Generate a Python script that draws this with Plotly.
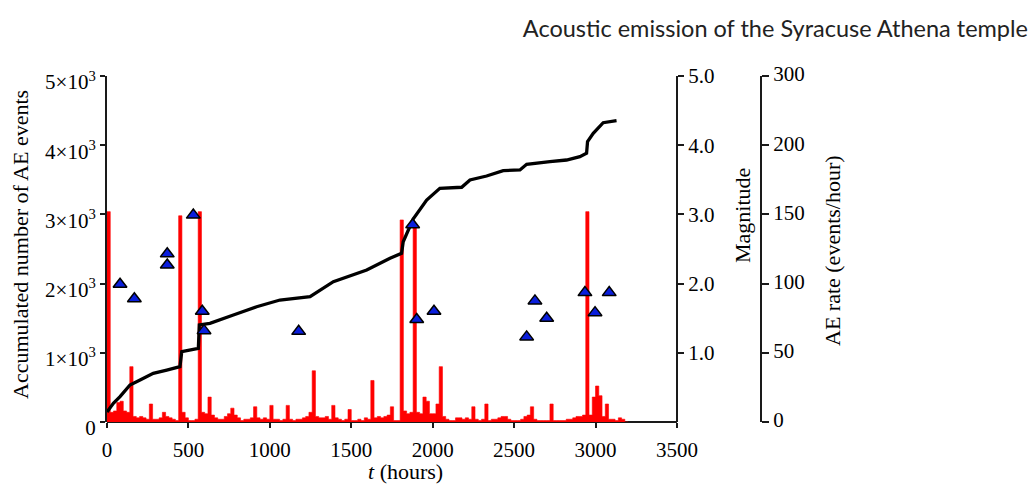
import plotly.graph_objects as go

# ---- data ----
# AE rate (events/hour), step histogram: bin start times (hours) and values
rate_t = [0, 20, 40, 60, 80, 100, 120, 140, 160, 180, 200, 220, 240, 260, 280, 300, 320, 340, 360, 380,
          400, 420, 440, 460, 480, 500, 520, 540, 560, 580, 600, 620, 640, 660, 680, 700, 720, 740, 760, 780,
          800, 820, 840, 860, 880, 900, 920, 940, 960, 980, 1000, 1020, 1040, 1060, 1080, 1100, 1120, 1140, 1160, 1180,
          1200, 1220, 1240, 1260, 1280, 1300, 1320, 1340, 1360, 1380, 1400, 1420, 1440, 1460, 1480, 1500, 1520, 1540, 1560, 1580,
          1600, 1620, 1640, 1660, 1680, 1700, 1720, 1740, 1760, 1780, 1800, 1820, 1840, 1860, 1880, 1900, 1920, 1940, 1960, 1980,
          2000, 2020, 2040, 2060, 2080, 2100, 2120, 2140, 2160, 2180, 2200, 2220, 2240, 2260, 2280, 2300, 2320, 2340, 2360, 2380,
          2400, 2420, 2440, 2460, 2480, 2500, 2520, 2540, 2560, 2580, 2600, 2620, 2640, 2660, 2680, 2700, 2720, 2740, 2760, 2780,
          2800, 2820, 2840, 2860, 2880, 2900, 2920, 2940, 2960, 2980, 3000, 3020, 3040, 3060, 3080, 3100, 3120, 3140, 3160, 3180, 3200]
rate_v = [152, 7, 8, 14, 15, 8, 7, 40, 4, 3, 4, 3, 2, 13, 2, 2, 3, 7, 4, 3,
          2, 1, 149, 7, 3, 1, 1, 2, 152, 7, 6, 18, 5, 3, 2, 2, 4, 6, 10, 5,
          3, 1, 2, 2, 3, 11, 3, 2, 3, 2, 12, 2, 2, 1, 2, 12, 2, 1, 2, 2,
          3, 4, 7, 37, 4, 3, 3, 4, 2, 12, 3, 2, 1, 2, 9, 1, 1, 2, 1, 3,
          2, 30, 3, 4, 3, 4, 5, 11, 1, 1, 146, 8, 6, 7, 141, 7, 6, 18, 15, 6,
          6, 13, 40, 4, 2, 1, 1, 3, 3, 2, 3, 2, 11, 2, 1, 2, 13, 1, 2, 2,
          3, 4, 4, 2, 1, 1, 1, 2, 4, 5, 11, 2, 1, 1, 1, 1, 13, 1, 1, 1,
          1, 2, 2, 3, 4, 4, 5, 152, 5, 18, 26, 19, 4, 13, 2, 2, 1, 3, 2, 0, 0]

# Accumulated number of AE events
cum_t = [0, 39, 80, 141, 203, 284, 367, 448, 459, 561, 567, 632, 776, 919, 1062, 1247, 1390, 1595,
         1738, 1809, 1819, 1880, 1963, 2044, 2178, 2229, 2331, 2433, 2536, 2577, 2720, 2822, 2904,
         2945, 2951, 2986, 3047, 3129]
cum_n = [145, 270, 366, 535, 607, 704, 751, 799, 1016, 1065, 1402, 1426, 1546, 1666, 1763, 1811, 2027, 2197,
         2366, 2438, 2605, 2933, 3208, 3377, 3392, 3497, 3555, 3632, 3642, 3724, 3762, 3786, 3834,
         3883, 4051, 4172, 4325, 4354]

# Magnitudes of events
mag_t = [80, 168, 370, 370, 530, 585, 596, 1177, 1877, 1902, 2008, 2577, 2628, 2700, 2935, 2997, 3084]
mag_v = [1.99, 1.78, 2.43, 2.27, 2.99, 1.60, 1.32, 1.31, 2.85, 1.48, 1.60, 1.23, 1.75, 1.50, 1.87, 1.58, 1.87]

# tick labels
x_ticks = [0, 500, 1000, 1500, 2000, 2500, 3000, 3500]
cnt_ticks = [0, 1000, 2000, 3000, 4000, 5000]
cnt_labels = ["0", "1×10<sup>3</sup>", "2×10<sup>3</sup>", "3×10<sup>3</sup>", "4×10<sup>3</sup>", "5×10<sup>3</sup>"]
mag_ticks = [1, 2, 3, 4, 5]
mag_labels = ["1.0", "2.0", "3.0", "4.0", "5.0"]
rate_ticks = [0, 50, 100, 150, 200, 250]
rate_labels = ["0", "50", "100", "150", "200", "300"]

X_MAX = 4010
MAG_AXIS_T = 3500

SERIF = "Liberation Serif"
AX = "#1a1a1a"

fig = go.Figure()
fig.add_trace(go.Scatter(x=rate_t, y=rate_v, yaxis="y", mode="lines", line_shape="hv",
                         line=dict(color="#ff0000", width=0.6), fill="tozeroy", fillcolor="#ff0000",
                         showlegend=False, hoverinfo="skip"))
fig.add_trace(go.Scatter(x=cum_t, y=cum_n, yaxis="y2", mode="lines",
                         line=dict(color="black", width=3.3), showlegend=False))
fig.add_trace(go.Scatter(x=mag_t, y=mag_v, yaxis="y3", mode="markers",
                         marker=dict(symbol="triangle-up", size=12, color="#0a1edc",
                                     line=dict(color="black", width=1.5)),
                         showlegend=False))

tickfont = dict(family=SERIF, size=21, color="black")

fig.update_layout(
    width=1034, height=484,
    margin=dict(l=107, r=274, t=76, b=62),
    paper_bgcolor="white", plot_bgcolor="white",
    title=dict(text="Acoustic emission of the Syracuse Athena temple",
               x=1028 / 1034, xanchor="right", y=1 - 29 / 484, yanchor="middle",
               font=dict(family="Lato", size=23.5, color="#222222")),
    xaxis=dict(range=[0, X_MAX], tickvals=x_ticks, ticks="outside", ticklen=5, tickwidth=1.5,
               tickcolor=AX, showline=False, showgrid=False, zeroline=False, tickfont=tickfont,
               ticklabelstandoff=4),
    yaxis=dict(range=[0, 250], tickvals=rate_ticks, ticktext=rate_labels, side="right", anchor="x",
               showline=True, linecolor=AX, linewidth=2, ticks="outside", ticklen=7, tickwidth=1.5,
               tickcolor=AX, showgrid=False, zeroline=False, tickfont=tickfont, ticklabelshift=-2),
    yaxis2=dict(range=[0, 5000], tickvals=cnt_ticks, ticktext=cnt_labels, side="left", anchor="x",
                overlaying="y", showline=True, linecolor=AX, linewidth=2, ticks="outside", ticklen=5,
                tickwidth=1.5, tickcolor=AX, showgrid=False, zeroline=False, tickfont=tickfont,
                ticklabelshift=6, layer="below traces"),
    yaxis3=dict(range=[0, 5], tickvals=mag_ticks, ticktext=mag_labels, side="right", anchor="free",
                position=MAG_AXIS_T / X_MAX, overlaying="y", showline=True, linecolor=AX, linewidth=2,
                ticks="outside", ticklen=6, tickwidth=1.5, tickcolor=AX, showgrid=False,
                zeroline=False, tickfont=tickfont),
)

# x axis baseline up to the magnitude axis
fig.add_shape(type="line", xref="x", yref="paper", x0=0, x1=MAG_AXIS_T, y0=0, y1=0,
              line=dict(color=AX, width=2), layer="below")

afont = dict(family=SERIF, size=22, color="black")
fig.add_annotation(text="Accumulated number of AE events", xref="paper", yref="paper",
                   x=(20 - 107) / 653, y=(422 - 245) / 346, textangle=-90, showarrow=False,
                   xanchor="center", yanchor="middle", font=afont)
fig.add_annotation(text="Magnitude", xref="paper", yref="paper",
                   x=(742 - 107) / 653, y=(422 - 216) / 346, textangle=-90, showarrow=False,
                   xanchor="center", yanchor="middle", font=afont)
fig.add_annotation(text="AE rate (events/hour)", xref="paper", yref="paper",
                   x=(832 - 107) / 653, y=(422 - 251) / 346, textangle=-90, showarrow=False,
                   xanchor="center", yanchor="middle", font=afont)
fig.add_annotation(text="<i>t</i> (hours)", xref="paper", yref="paper",
                   x=(405 - 107) / 653, y=(422 - 471) / 346, showarrow=False,
                   xanchor="center", yanchor="middle", font=afont)

fig.write_html("out.html", config={"displayModeBar": False},
               post_script="document.body.style.margin='0';document.body.style.overflow='hidden';")
